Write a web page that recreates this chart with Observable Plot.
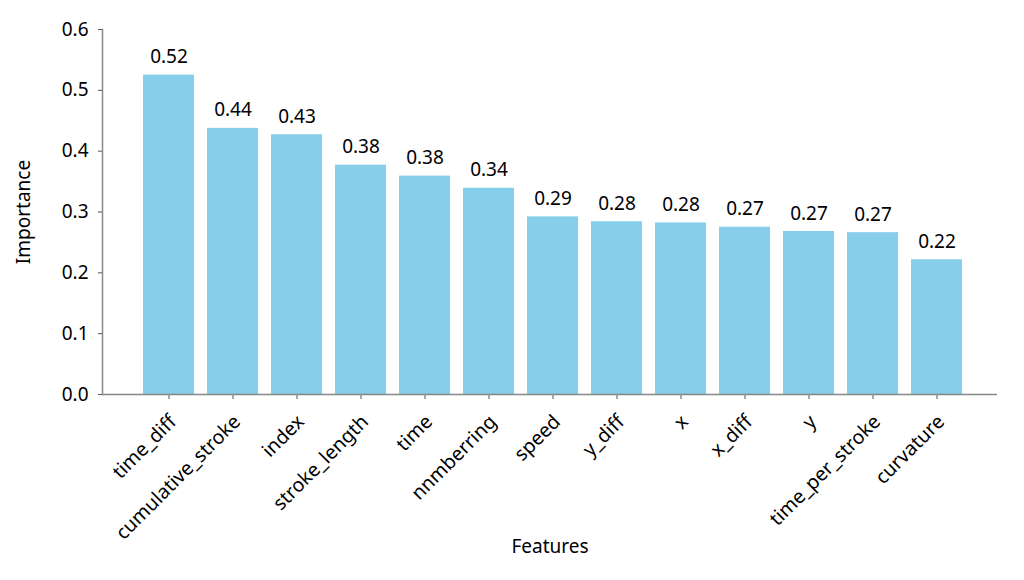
<!DOCTYPE html>
<html>
<head>
<meta charset="utf-8">
<script src="https://cdn.jsdelivr.net/npm/d3@7"></script>
<script src="https://cdn.jsdelivr.net/npm/@observablehq/plot@0.6"></script>
<style>
  html, body { margin: 0; padding: 0; background: #fff; }
  #chart svg { display: block; }
</style>
</head>
<body>
<div id="chart"></div>
<script>
const features = ["time_diff", "cumulative_stroke", "index", "stroke_length", "time", "nnmberring", "speed", "y_diff", "x", "x_diff", "y", "time_per_stroke", "curvature"];
const importance = [0.525, 0.4375, 0.427, 0.377, 0.359, 0.339, 0.292, 0.284, 0.282, 0.275, 0.268, 0.266, 0.2215];
const valueLabels = ["0.52", "0.44", "0.43", "0.38", "0.38", "0.34", "0.29", "0.28", "0.28", "0.27", "0.27", "0.27", "0.22"];
const yTicks = [0, 0.1, 0.2, 0.3, 0.4, 0.5, 0.6];

const data = features.map((f, i) => ({feature: f, value: importance[i], label: valueLabels[i]}));
const font = "'Noto Sans', sans-serif";

const chart = Plot.plot({
  width: 1024,
  height: 580,
  marginLeft: 102,
  marginRight: 27,
  marginTop: 29,
  marginBottom: 186,
  style: {fontFamily: font, fontSize: "19px", color: "#000", background: "#fff"},
  x: {domain: features, paddingInner: 0.2, paddingOuter: 0.59, align: 0.54},
  y: {domain: [0, 0.6]},
  marks: [
    Plot.barY(data, {x: "feature", y: "value", fill: "#87CEEB"}),
    Plot.text(data, {x: "feature", y: "value", text: "label", dy: -18, fontSize: 19, fill: "#000"}),
    Plot.axisY({ticks: yTicks, tickFormat: d3.format(".1f"), tickSize: 4, tickPadding: 10, stroke: "#555", fontSize: 19, label: "Importance", labelAnchor: "center", labelArrow: "none", labelOffset: 86, fill: "#000"}),
    Plot.axisX({tickSize: 5, tickFormat: () => "", stroke: "#555", label: null}),
    Plot.axisX({tickRotate: -45, tickSize: 0, tickPadding: 13, dx: 4, dy: 11, fontSize: 19.5, label: null, fill: "#000"}),
    Plot.axisX({ticks: [], tickSize: 0, label: "Features", labelAnchor: "center", labelArrow: "none", labelOffset: 158, dx: -4, fontSize: 19, fill: "#000"}),
    Plot.ruleY([0], {stroke: "#888", strokeWidth: 1.5}),
    Plot.frame({anchor: "left", stroke: "#888", strokeWidth: 1.5})
  ]
});
document.getElementById("chart").appendChild(chart);
</script>
</body>
</html>
